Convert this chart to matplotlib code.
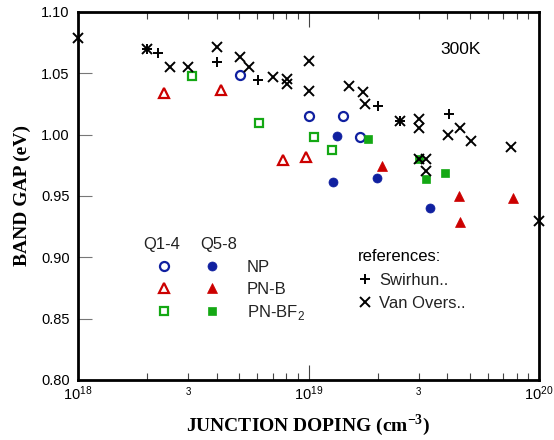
import numpy as np
import matplotlib
matplotlib.use('Agg')
import matplotlib.pyplot as plt
from matplotlib.ticker import FuncFormatter, FormatStrFormatter, NullLocator
from matplotlib.legend_handler import HandlerTuple
from matplotlib.lines import Line2D

# band gap narrowing vs junction doping
np_open_x = [5.05e18, 1.0e19, 1.41e19, 1.68e19]
np_open_y = [1.0486, 1.0155, 1.0155, 0.9978]
np_fill_x = [1.33e19, 1.28e19, 1.98e19, 3.37e19]
np_fill_y = [0.999, 0.961, 0.9644, 0.940]

pnb_open_x = [2.35e18, 4.16e18, 7.73e18, 9.78e18]
pnb_open_y = [1.034, 1.036, 0.979, 0.982]
pnb_fill_x = [2.09e19, 4.50e19, 4.54e19, 7.73e19]
pnb_fill_y = [0.9744, 0.950, 0.929, 0.948]

bf2_open_x = [3.11e18, 6.12e18, 1.057e19, 1.27e19]
bf2_open_y = [1.0478, 1.0098, 0.9978, 0.9875]
bf2_fill_x = [1.82e19, 3.0e19, 3.22e19, 3.91e19]
bf2_fill_y = [0.9965, 0.980, 0.9638, 0.9685]

swirhun_x = [2.0e18, 2.22e18, 4.0e18, 6.05e18, 2.01e19, 2.5e19, 4.05e19]
swirhun_y = [1.070, 1.0668, 1.0595, 1.0446, 1.0234, 1.0114, 1.0168]

vanovers_x = [1.0e18, 2.0e18, 2.5e18, 3.0e18, 4.0e18, 5.05e18, 5.53e18, 7.0e18,
              8.1e18, 8.1e18, 1.0e19, 1.0e19, 1.50e19, 1.72e19, 1.76e19, 2.5e19,
              3.0e19, 3.0e19, 4.02e19, 4.54e19, 5.06e19, 7.54e19, 3.0e19, 3.22e19,
              3.22e19, 1.0e20]
vanovers_y = [1.0786, 1.0698, 1.055, 1.055, 1.0717, 1.063, 1.0554, 1.0467,
              1.0455, 1.041, 1.060, 1.0353, 1.0397, 1.035, 1.025, 1.0114,
              1.0128, 1.0052, 0.9997, 1.0055, 0.995, 0.990, 0.980, 0.980,
              0.970, 0.9296]

blue = '#1020A0'
red = '#CC0000'
green = '#14A814'

plt.rcParams['font.family'] = ['Liberation Sans', 'DejaVu Sans']
plt.rcParams['mathtext.fontset'] = 'custom'
plt.rcParams['mathtext.rm'] = 'Liberation Sans'

fig = plt.figure(figsize=(5.54, 4.4), dpi=100)
ax = fig.add_axes([0.1408, 0.1364, 0.8322, 0.8364])

kw = dict(linestyle='none', clip_on=False)
h_np_o, = ax.plot(np_open_x, np_open_y, marker='o', ms=6.5, mfc='none', mec=blue, mew=1.6, **kw)
h_np_f, = ax.plot(np_fill_x, np_fill_y, marker='o', ms=6.5, mfc=blue, mec=blue, mew=0.5, **kw)
h_pb_o, = ax.plot(pnb_open_x, pnb_open_y, marker='^', ms=7.5, mfc='none', mec=red, mew=1.6, **kw)
h_pb_f, = ax.plot(pnb_fill_x, pnb_fill_y, marker='^', ms=7.5, mfc=red, mec=red, mew=0.5, **kw)
h_bf_o, = ax.plot(bf2_open_x, bf2_open_y, marker='s', ms=6.0, mfc='none', mec=green, mew=1.6, **kw)
h_bf_f, = ax.plot(bf2_fill_x, bf2_fill_y, marker='s', ms=5.5, mfc=green, mec=green, mew=0.5, **kw)
h_sw, = ax.plot(swirhun_x, swirhun_y, marker='+', ms=7, mec='k', mew=1.4, **kw)
h_vo, = ax.plot(vanovers_x, vanovers_y, marker='x', ms=6.5, mec='k', mew=1.4, **kw)

ax.set_xscale('log')
ax.set_xlim(1e18, 1e20)
ax.set_ylim(0.80, 1.10)
ax.set_yticks(np.arange(0.80, 1.101, 0.05))
ax.yaxis.set_major_formatter(FormatStrFormatter('%.2f'))
ax.yaxis.set_minor_locator(NullLocator())


def minor_fmt(v, pos):
    m = v / 10 ** np.floor(np.log10(v) + 1e-9)
    return '3' if abs(m - 3) < 0.01 else ''


ax.xaxis.set_minor_formatter(FuncFormatter(minor_fmt))
ax.tick_params(axis='x', which='major', direction='in', length=11, width=0.8,
               top=True, color='#444444', labelsize=10.5, pad=3)
ax.tick_params(axis='x', which='minor', direction='in', length=5, width=0.8,
               top=True, color='#444444', labelsize=7, pad=5)
ax.tick_params(axis='y', direction='in', length=10, width=0.8, right=False,
               color='#777777', labelsize=10.5, pad=6)
for s in ax.spines.values():
    s.set_linewidth(2.0)

lab_font = dict(family='Liberation Serif', weight='bold', size=14)
ax.set_xlabel(r'JUNCTION DOPING (cm$^{\mathdefault{-3}}$)', fontdict=lab_font, labelpad=7)
ax.set_ylabel('BAND GAP (eV)', fontdict=lab_font, labelpad=7)

ax.text(0.8308, 0.8967, '300K', transform=ax.transAxes, ha='center', va='center', fontsize=12.5)

# key for the samples: open = Q1-4, filled = Q5-8
ax.text(0.1816, 0.3688, 'Q1-4', transform=ax.transAxes, ha='center', va='center', fontsize=12, color='#222222')
ax.text(0.3043, 0.3688, 'Q5-8', transform=ax.transAxes, ha='center', va='center', fontsize=12, color='#222222')
leg1 = ax.legend([(h_np_o, h_np_f), (h_pb_o, h_pb_f), (h_bf_o, h_bf_f)],
                 ['NP', 'PN-B', r'PN-BF$_2$'],
                 handler_map={tuple: HandlerTuple(ndivide=None, pad=1.68)},
                 loc='upper left', bbox_to_anchor=(0.1655, 0.3255), frameon=False,
                 borderpad=0, borderaxespad=0, handlelength=4.08, handletextpad=1.46,
                 labelspacing=0.38, fontsize=12, labelcolor='#222222')
ax.add_artist(leg1)

ref_sw = Line2D([], [], linestyle='none', marker='+', ms=7, mec='k', mew=1.4)
ref_vo = Line2D([], [], linestyle='none', marker='x', ms=6.5, mec='k', mew=1.4)
leg2 = ax.legend([ref_sw, ref_vo], ['Swirhun..', 'Van Overs..'], title='references:',
                 title_fontsize=12, alignment='left',
                 loc='upper left', bbox_to_anchor=(0.608, 0.355), frameon=False,
                 borderpad=0, borderaxespad=0, handlelength=0.8, handletextpad=0.44,
                 labelspacing=0.48, fontsize=12, labelcolor='#222222')
leg2._legend_box.sep = 6

fig.savefig('out.png', dpi=100)
